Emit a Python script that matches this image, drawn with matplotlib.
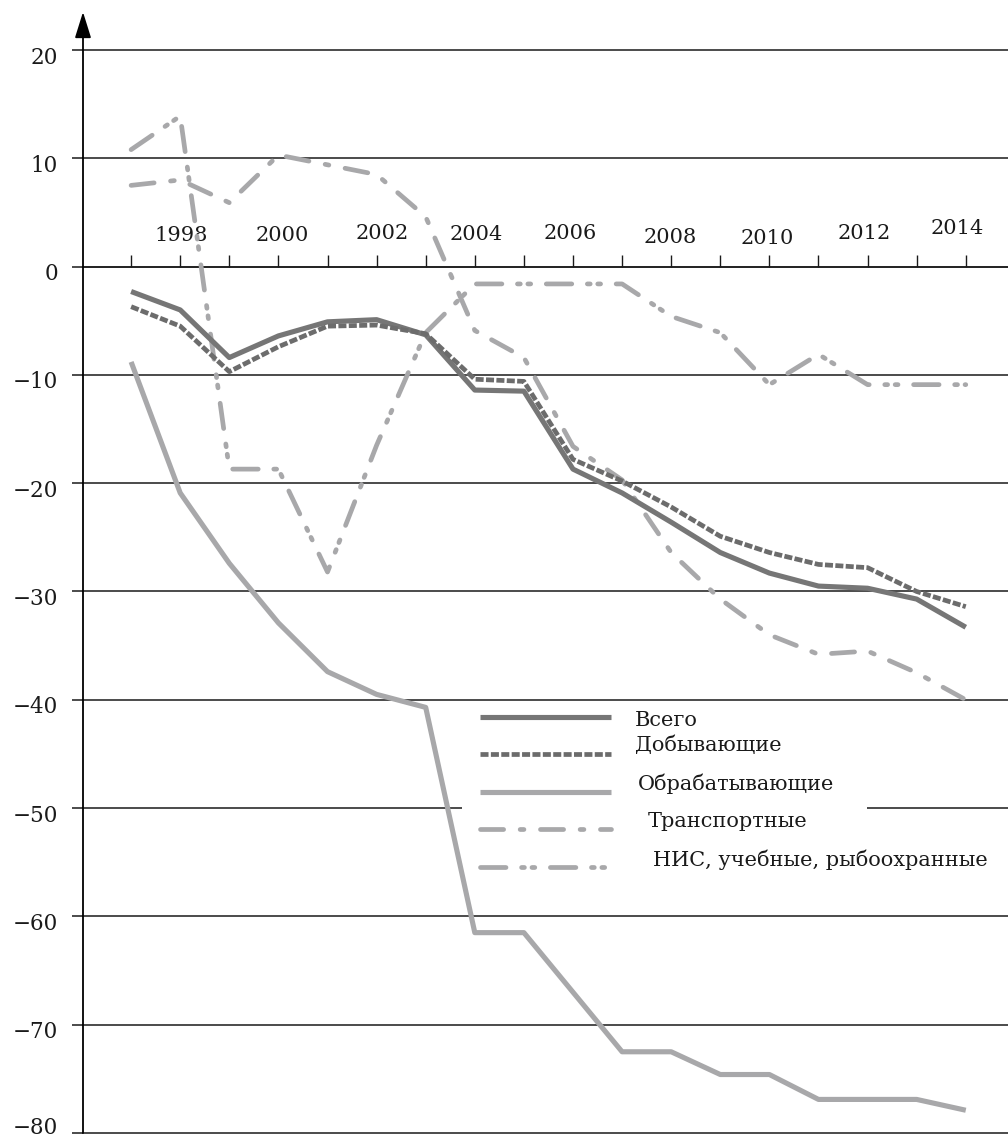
import matplotlib
matplotlib.use('Agg')
import matplotlib.pyplot as plt
import matplotlib.transforms as mtransforms
from matplotlib.patches import Rectangle

# ---------------- data ----------------
years = list(range(1997, 2015))
total = [-2.3, -4.0, -8.4, -6.4, -5.1, -4.9, -6.3, -11.4, -11.5, -18.7,
         -20.9, -23.6, -26.4, -28.3, -29.5, -29.7, -30.7, -33.3]
mining = [-3.7, -5.5, -9.7, -7.4, -5.5, -5.4, -6.2, -10.4, -10.6, -17.8,
          -19.8, -22.2, -24.9, -26.4, -27.5, -27.8, -30.0, -31.4]
processing = [-8.8, -20.9, -27.4, -32.9, -37.4, -39.5, -40.7, -61.5, -61.5, -67.0,
              -72.5, -72.5, -74.6, -74.6, -76.9, -76.9, -76.9, -77.9]
transport = [7.5, 8.0, 5.9, 10.3, 9.4, 8.5, 4.6, -5.9, -8.4, -16.6,
             -19.7, -26.4, -30.7, -34.0, -35.8, -35.5, -37.5, -40.0]
nis = [10.8, 13.9, -18.7, -18.7, -28.2, -16.5, -6.1, -1.6, -1.6, -1.6,
       -1.6, -4.6, -6.1, -10.9, -8.1, -10.9, -10.9, -10.9]

series_labels = ['Всего', 'Добывающие', 'Обрабатывающие', 'Транспортные',
                 'НИС, учебные, рыбоохранные']
year_labels = [1998, 2000, 2002, 2004, 2006, 2008, 2010, 2012, 2014]
y_ticks = list(range(-80, 21, 10))

# ---------------- style ----------------
plt.rcParams['font.family'] = ['DejaVu Serif']
W, H = 1008, 1141
fig = plt.figure(figsize=(W / 100, H / 100), dpi=100)
ax = fig.add_axes([83 / W, 8 / H, (W - 83) / W, (1133 - 50) / H])
ax.set_xlim(1996.02, 2014.86)
ax.set_ylim(-80, 20)
ax.set_axisbelow(True)

for s in ['top', 'right', 'left']:
    ax.spines[s].set_visible(False)
ax.spines['bottom'].set_position(('data', 0))
ax.spines['bottom'].set_linewidth(1.1)
ax.spines['bottom'].set_color('#1a1a1a')

ax.set_yticks(y_ticks)
ax.grid(axis='y', color='#1a1a1a', lw=1.1)
for gl in ax.yaxis.get_gridlines():
    gl.set_clip_on(False)
ax.tick_params(axis='y', direction='out', length=8, width=1.1, color='#1a1a1a',
               pad=10, labelsize=15.5)
ylab_dy = [8, -5, -5, -5, -5, -5, -5, -5, -5, -5, -5]
for lab, dy in zip(ax.get_yticklabels(), ylab_dy):
    off = mtransforms.ScaledTranslation(0, dy / 100, fig.dpi_scale_trans)
    lab.set_transform(lab.get_transform() + off)
    lab.set_color('#1a1a1a')

ax.set_xticks(years)
ax.tick_params(axis='x', direction='in', length=8.6, width=1.0, color='#1a1a1a',
               labelbottom=False)

# year labels above the zero line (slightly staggered like in the original)
lab_dx = [1, 4, 6, 1, -3, -1, -2, -3, -9]
lab_dy = [0, 0, 2, 1, 2, -2, -3, 2, 7]
for yr, dx, dy in zip(year_labels, lab_dx, lab_dy):
    off = mtransforms.ScaledTranslation(dx / 100, dy / 100, fig.dpi_scale_trans)
    ax.text(yr, 2.9, str(yr), ha='center', va='center', fontsize=15,
            color='#1a1a1a', transform=ax.transData + off)

# vertical axis with arrow
ax.annotate('', xy=(0, 1 + 38 / 1083), xycoords='axes fraction',
            xytext=(0, 0), textcoords='axes fraction', annotation_clip=False,
            arrowprops=dict(arrowstyle='-|>,head_length=0.8,head_width=0.25',
                            color='black', lw=1.3, shrinkA=0, shrinkB=0,
                            mutation_scale=20))

# ---------------- lines ----------------
dark = '#767676'
light = '#a8a8aa'
l1, = ax.plot(years, total, color=dark, lw=3.7, solid_capstyle='butt', zorder=4)
l2, = ax.plot(years, mining, color='#6c6c6c', lw=3.4, linestyle=(0, (1.7, 0.5)),
              dash_capstyle='butt', zorder=5)
l3, = ax.plot(years, processing, color=light, lw=3.7, solid_capstyle='butt', zorder=3)
l4, = ax.plot(years, transport, color=light, lw=3.4,
              linestyle=(0, (4.9, 3.5, 0.8, 3.5)), dash_capstyle='round', zorder=3)
l5, = ax.plot(years, nis, color=light, lw=3.4,
              linestyle=(0, (5.4, 3.3, 0.6, 1.6, 0.6, 3.3)), dash_capstyle='round',
              zorder=3)

# white background behind the legend
ax.add_patch(Rectangle((462 / W, 1 - 837 / H), (867 - 462) / W, (837 - 760) / H,
                       transform=fig.transFigure, facecolor='white',
                       edgecolor='none', zorder=1))

leg = ax.legend([l1, l2, l3, l4, l5], series_labels, loc='upper left',
                bbox_to_anchor=(480 / W, 1 - 709 / H), bbox_transform=fig.transFigure,
                frameon=False, borderpad=0, borderaxespad=0, handlelength=6.3,
                handletextpad=1.15, labelspacing=0.85, fontsize=15)
leg.set_zorder(6)
t_dx = [0, 0, 3, 13, 18]
t_dy = [-2, 10, 9, 9, 8]
for t, dx, dy in zip(leg.get_texts(), t_dx, t_dy):
    t.set_color('#1a1a1a')
    off = mtransforms.ScaledTranslation(dx / 100, dy / 100, fig.dpi_scale_trans)
    t.set_transform(t.get_transform() + off)

fig.savefig('out.png', dpi=100, facecolor='white')
